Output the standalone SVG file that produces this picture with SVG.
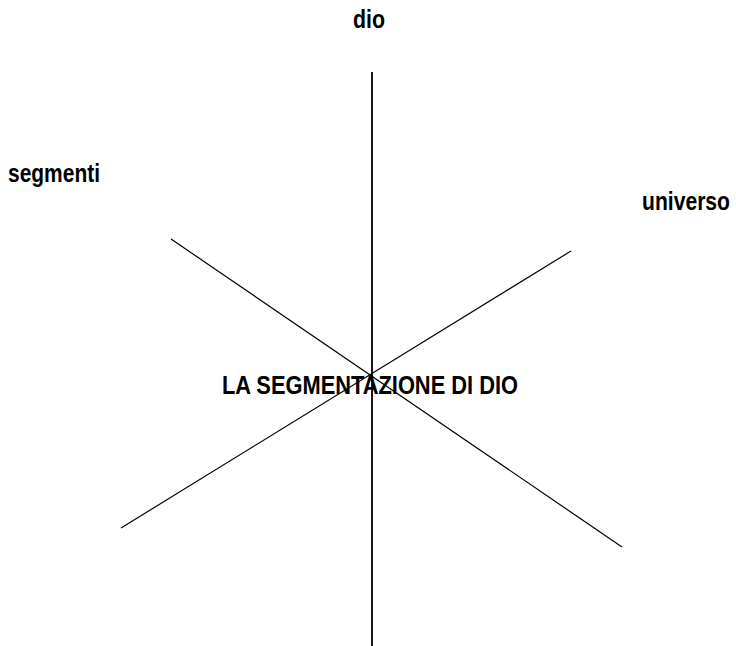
<svg xmlns="http://www.w3.org/2000/svg" width="736" height="646" viewBox="0 0 736 646">
<style>
.lbl{font-family:"Liberation Sans Narrow","Liberation Sans",Arial,sans-serif;font-weight:bold;font-size:26px;fill:#000}
.ln{stroke:#000;fill:none}
</style>
<rect width="736" height="646" fill="#fff"/>
<g id="connectors">
<line class="ln" x1="372" y1="72" x2="372" y2="646" stroke-width="1.8"/>
<line class="ln" x1="171" y1="239" x2="622" y2="547" stroke-width="1.2"/>
<line class="ln" x1="571" y1="251" x2="121" y2="528" stroke-width="1.2"/>
</g>
<g id="node-center"><text class="lbl" x="222" y="394" textLength="296" lengthAdjust="spacingAndGlyphs">LA SEGMENTAZIONE DI DIO</text></g>
<g id="node-dio"><text class="lbl" x="353" y="28" textLength="32" lengthAdjust="spacingAndGlyphs">dio</text></g>
<g id="node-segmenti"><text class="lbl" x="8" y="182" textLength="92" lengthAdjust="spacingAndGlyphs">segmenti</text></g>
<g id="node-universo"><text class="lbl" x="642" y="210" textLength="88" lengthAdjust="spacingAndGlyphs">universo</text></g>
</svg>
